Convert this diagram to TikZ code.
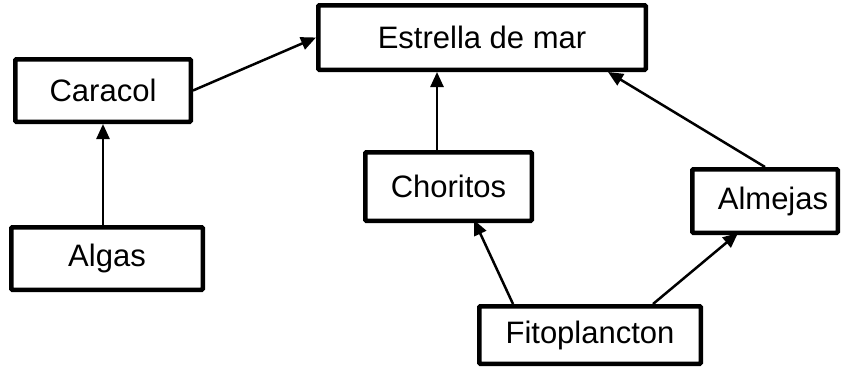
\documentclass[tikz,border=0pt]{standalone}
\usepackage{fontspec}
\setmainfont{Liberation Sans}
\usetikzlibrary{arrows.meta,calc}
\begin{document}
\begin{tikzpicture}[x=1pt,y=-1pt,
  box/.style={draw=black,line width=4.5pt,rounded corners=1pt,fill=white,
    inner sep=0pt,font=\fontsize{31}{37}\selectfont},
  arr/.style={draw=black,line width=2.5pt,-{Triangle[length=15pt,width=13pt]}}]
\useasboundingbox (0,0) rectangle (851,368);
\node[box,minimum width=327.5pt,minimum height=64.5pt] (estrella) at (482,37.5) {Estrella de mar};
\node[box,minimum width=175.5pt,minimum height=62.5pt] (caracol) at (103,90.5) {Caracol};
\node[box,minimum width=191.5pt,minimum height=62.5pt] (algas) at (107,258.5) {Algas};
\node[box,minimum width=166.5pt,minimum height=68.5pt] (choritos) at (448.5,186.5) {Choritos};
\node[box,minimum width=145.5pt,minimum height=63.5pt] (almejas) at (765,201) {\hspace*{16pt}Almejas};
\node[box,minimum width=221.5pt,minimum height=57.5pt] (fito) at (590,335) {Fitoplancton};
\draw[arr] (algas.north -| caracol.south) -- (caracol.south);
\draw[arr] (caracol.east) -- (estrella.west);
\draw[arr] ([xshift=-11.5pt]choritos.north) -- ([xshift=-11.5pt]choritos.north |- estrella.south);
\draw[arr] (almejas.north) -- ([xshift=126pt]estrella.south);
\draw[arr] ([xshift=-77pt]fito.north) -- ([xshift=25.5pt,yshift=3pt]choritos.south);
\draw[arr] ([xshift=63pt]fito.north) -- ([xshift=-27pt,yshift=2pt]almejas.south);
\end{tikzpicture}
\end{document}
